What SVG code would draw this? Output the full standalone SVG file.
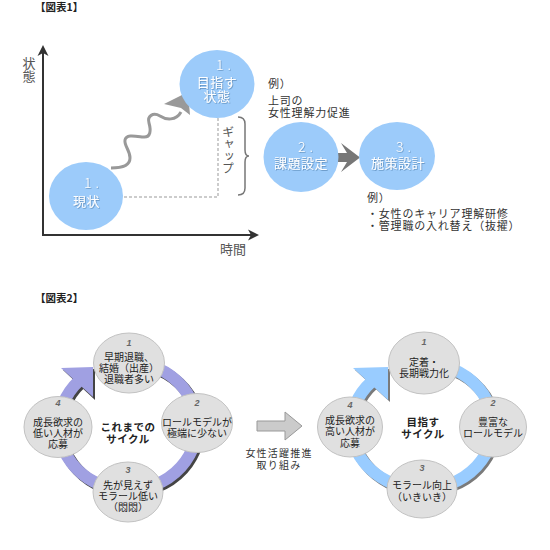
<svg xmlns="http://www.w3.org/2000/svg" width="550" height="550" viewBox="0 0 550 550">
<defs>
<style>
text{font-family:"Noto Sans CJK JP","Noto Sans",sans-serif;}
.title{font-size:10.5px;font-weight:bold;fill:#222;}
.axis{stroke:#333;stroke-width:2;fill:none;}
.axlbl{font-size:13px;fill:#555;}
.vert{writing-mode:vertical-rl;text-orientation:upright;}
.blue{fill:#9ccbfa;}
.wl{fill:#fff;font-size:13px;letter-spacing:0.5px;text-anchor:middle;filter:url(#ts);}
.wn{fill:#fff;font-size:14px;letter-spacing:4px;font-weight:300;filter:url(#ts);}
.note{font-size:11px;fill:#333;letter-spacing:0.8px;}
.gray{fill:#e0e0e0;stroke:#c2c2c2;stroke-width:1;}
.ct{font-size:10px;fill:#222;text-anchor:middle;}
.num{font-family:"Liberation Sans",sans-serif;font-size:9px;font-style:italic;font-weight:bold;fill:#666;text-anchor:middle;}
.cen{font-size:10.5px;font-weight:bold;fill:#222;text-anchor:middle;letter-spacing:0.5px;}
</style>
<filter id="ts" x="-20%" y="-20%" width="140%" height="140%">
<feDropShadow dx="0.8" dy="0.8" stdDeviation="0.6" flood-color="#3d6c99" flood-opacity="0.6"/>
</filter>
</defs>
<rect width="550" height="550" fill="#fff"/>

<!-- Figure 1 -->
<text class="title" x="35" y="11">【図表1】</text>

<g id="axes">
<line class="axis" x1="43" y1="235" x2="43" y2="50"/>
<polygon points="37.5,56 43,45 48.5,56 43,53" fill="#333"/>
<line class="axis" x1="42" y1="235" x2="253" y2="235"/>
<polygon points="248,229.5 259,235 248,240.5 251,235" fill="#333"/>
<text class="axlbl vert" x="29" y="57">状態</text>
<text class="axlbl" x="220" y="254">時間</text>
</g>

<g id="connectors1">
<path d="M124,197 H218 V118" fill="none" stroke="#999" stroke-width="1" stroke-dasharray="3,2"/>
<path d="M238,117 Q245,117 245,124 V150 Q245,156 249,156 Q245,156 245,162 V188 Q245,195 238,195" fill="none" stroke="#777" stroke-width="1.5"/>
<path d="M111,168 C121,168 130,166 130,158 C130,150 124,146 125,140 C126,134 135,136 143,137 C151,138 151,130 149,123 C147,116 153,112 160,116 C166,120 176,121 181,112" fill="none" stroke="#999" stroke-width="3"/>
<polygon points="164,104 188,92 190,115 181,108" fill="#999"/>
<path d="M336,153 H347 L341,143 L360,157.5 L341,172 L347,162 H336 Z" fill="#777"/>
</g>

<g id="gap-label">
<text class="axlbl vert" x="228" y="126" style="font-size:12px">ギャップ</text>
</g>

<g id="genjo">
<ellipse class="blue" cx="86" cy="196" rx="37" ry="34"/>
<text class="wn" x="84" y="188">1.</text>
<text class="wl" x="86.5" y="206">現状</text>
</g>

<g id="mezasu">
<ellipse class="blue" cx="217" cy="84" rx="37.5" ry="34"/>
<text class="wn" x="216" y="70">1.</text>
<text class="wl" x="217" y="87">目指す<tspan x="217" dy="14">状態</tspan></text>
</g>

<g id="kadai">
<ellipse class="blue" cx="301" cy="157" rx="37.5" ry="35"/>
<text class="wn" x="298" y="152">2.</text>
<text class="wl" x="301" y="168">課題設定</text>
</g>

<g id="shisaku">
<ellipse class="blue" cx="397" cy="156" rx="38" ry="34"/>
<text class="wn" x="396" y="152">3.</text>
<text class="wl" x="398" y="168">施策設計</text>
</g>

<g id="notes1">
<text class="note" x="268" y="88">例）</text>
<text class="note" x="268" y="105">上司の<tspan x="268" dy="12">女性理解力促進</tspan></text>
<text class="note" x="367" y="202">例）</text>
<text class="note" x="367" y="218">・女性のキャリア理解研修<tspan x="367" dy="12">・管理職の入れ替え（抜擢）</tspan></text>
</g>

<!-- Figure 2 -->
<text class="title" x="35" y="302">【図表2】</text>

<g id="ring-left">
<path d="M130,364 A69,64 0 1 1 81.2,382.7" fill="none" stroke="#444" stroke-width="12"/>
<polygon points="63,370 95,369 95,400" fill="#444"/>
<path d="M128,362 A69,64 0 1 1 79.2,380.7" fill="none" stroke="#a0a0e2" stroke-width="12"/>
<polygon points="61,368 93,367 93,397" fill="#a0a0e2"/>
</g>

<g id="ring-right">
<path d="M424,365 A71,63 0 1 1 373.8,383.5" fill="none" stroke="#7a7a7a" stroke-width="12"/>
<polygon points="355,370 390,369 390,402" fill="#7a7a7a"/>
<path d="M422,363 A71,63 0 1 1 371.8,381.5" fill="none" stroke="#99ccff" stroke-width="12"/>
<polygon points="353,368 388,367 388,400" fill="#99ccff"/>
</g>

<g id="L1">
<ellipse class="gray" cx="129" cy="363" rx="35.5" ry="30"/>
<text class="num" x="129" y="346">1</text>
<text class="ct" x="129" y="361">早期退職、<tspan x="129" dy="11">結婚（出産）</tspan><tspan x="129" dy="11">退職者多い</tspan></text>
</g>
<g id="L2">
<ellipse class="gray" cx="197" cy="423" rx="35.5" ry="29.5"/>
<text class="num" x="197" y="406">2</text>
<text class="ct" x="197" y="426">ロールモデルが<tspan x="197" dy="11">極端に少ない</tspan></text>
</g>
<g id="L3">
<ellipse class="gray" cx="128" cy="492" rx="35" ry="30"/>
<text class="num" x="128" y="473">3</text>
<text class="ct" x="128" y="489">先が見えず<tspan x="128" dy="11">モラール低い</tspan><tspan x="128" dy="11">（悶悶）</tspan></text>
</g>
<g id="L4">
<ellipse class="gray" cx="58" cy="427" rx="34" ry="30.5"/>
<text class="num" x="58" y="406">4</text>
<text class="ct" x="58" y="426">成長欲求の<tspan x="58" dy="11">低い人材が</tspan><tspan x="58" dy="11">応募</tspan></text>
</g>
<g id="Lcenter">
<text class="cen" x="128" y="431">これまでの<tspan x="128" dy="12">サイクル</tspan></text>
</g>

<g id="middle-arrow">
<polygon points="257,421 285,421 285,412 302,426 285,440 285,431 257,431" fill="#cbcbcb" stroke="#999" stroke-width="1"/>
<text class="ct" x="279" y="457" style="letter-spacing:1.2px;fill:#333">女性活躍推進<tspan x="279" dy="12">取り組み</tspan></text>
</g>

<g id="R1">
<ellipse class="gray" cx="424" cy="363" rx="35.5" ry="31"/>
<text class="num" x="424" y="345">1</text>
<text class="ct" x="424" y="366">定着・<tspan x="424" dy="11">長期戦力化</tspan></text>
</g>
<g id="R2">
<ellipse class="gray" cx="493" cy="427" rx="33.5" ry="30"/>
<text class="num" x="493" y="406">2</text>
<text class="ct" x="493" y="426">豊富な<tspan x="493" dy="11">ロールモデル</tspan></text>
</g>
<g id="R3">
<ellipse class="gray" cx="422" cy="489" rx="35" ry="29"/>
<text class="num" x="422" y="471">3</text>
<text class="ct" x="422" y="489">モラール向上<tspan x="422" dy="12">（いきいき）</tspan></text>
</g>
<g id="R4">
<ellipse class="gray" cx="350" cy="427" rx="32.5" ry="30"/>
<text class="num" x="350" y="408">4</text>
<text class="ct" x="350" y="424">成長欲求の<tspan x="350" dy="11">高い人材が</tspan><tspan x="350" dy="12">応募</tspan></text>
</g>
<g id="Rcenter">
<text class="cen" x="423" y="426">目指す<tspan x="423" dy="12">サイクル</tspan></text>
</g>
</svg>
